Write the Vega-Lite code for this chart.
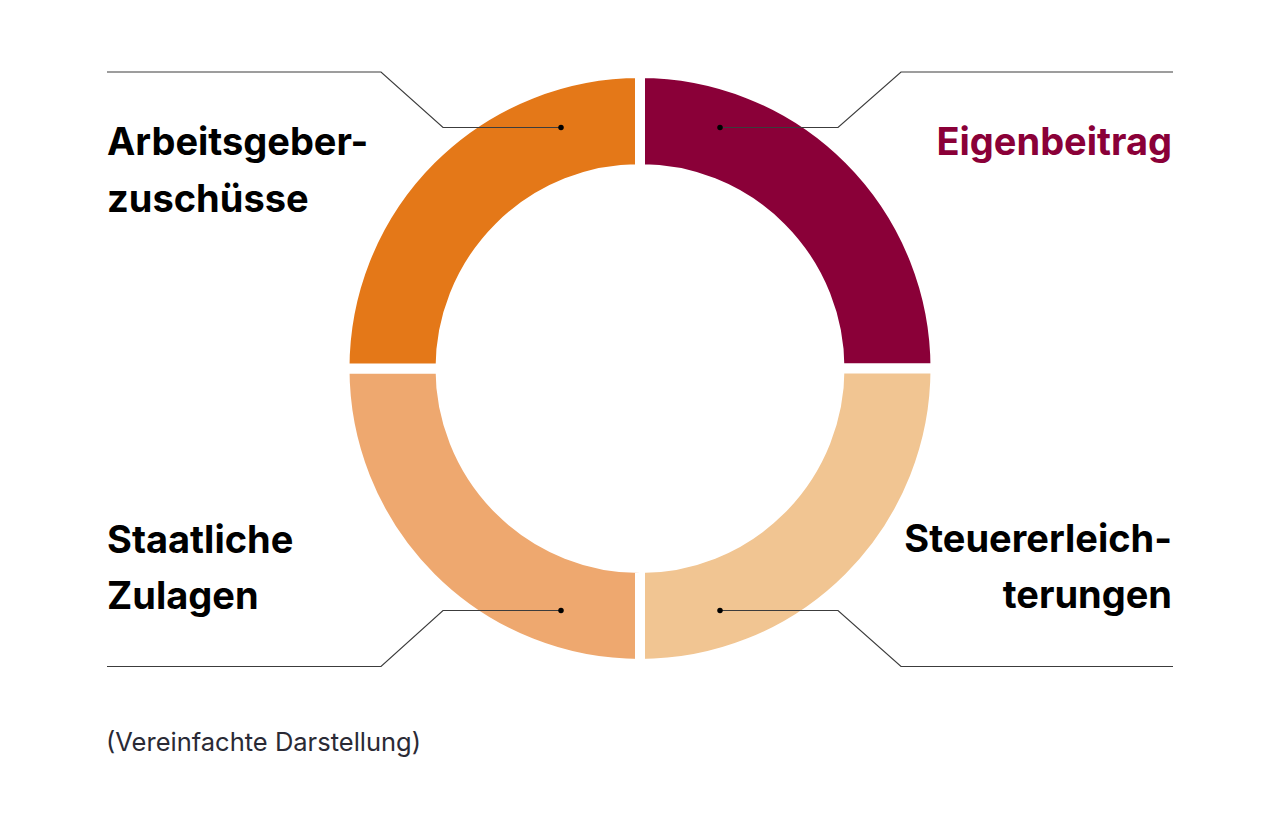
{
  "$schema": "https://vega.github.io/schema/vega-lite/v6.json",
  "width": 1280,
  "height": 737,
  "padding": 0,
  "background": "white",
  "view": {"stroke": null},
  "config": {"font": "Inter"},
  "datasets": {
    "segments": [
      {"category": "Eigenbeitrag", "value": 1, "order": 1},
      {"category": "Steuererleichterungen", "value": 1, "order": 2},
      {"category": "Staatliche Zulagen", "value": 1, "order": 3},
      {"category": "Arbeitsgeberzuschüsse", "value": 1, "order": 4}
    ],
    "leaders": [
      {"seg": "Arbeitsgeberzuschüsse", "step": 1, "x": 107, "y": 72},
      {"seg": "Arbeitsgeberzuschüsse", "step": 2, "x": 381, "y": 72},
      {"seg": "Arbeitsgeberzuschüsse", "step": 3, "x": 443, "y": 127.5},
      {"seg": "Arbeitsgeberzuschüsse", "step": 4, "x": 561, "y": 127.5},
      {"seg": "Eigenbeitrag", "step": 1, "x": 1173, "y": 72},
      {"seg": "Eigenbeitrag", "step": 2, "x": 901, "y": 72},
      {"seg": "Eigenbeitrag", "step": 3, "x": 838, "y": 127.5},
      {"seg": "Eigenbeitrag", "step": 4, "x": 720, "y": 127.5},
      {"seg": "Staatliche Zulagen", "step": 1, "x": 107, "y": 666.5},
      {"seg": "Staatliche Zulagen", "step": 2, "x": 381, "y": 666.5},
      {"seg": "Staatliche Zulagen", "step": 3, "x": 443, "y": 610.5},
      {"seg": "Staatliche Zulagen", "step": 4, "x": 561, "y": 610.5},
      {"seg": "Steuererleichterungen", "step": 1, "x": 1173, "y": 666.5},
      {"seg": "Steuererleichterungen", "step": 2, "x": 901, "y": 666.5},
      {"seg": "Steuererleichterungen", "step": 3, "x": 838, "y": 610.5},
      {"seg": "Steuererleichterungen", "step": 4, "x": 720, "y": 610.5}
    ],
    "dots": [
      {"seg": "Arbeitsgeberzuschüsse", "x": 561, "y": 127.5},
      {"seg": "Eigenbeitrag", "x": 720, "y": 127.5},
      {"seg": "Staatliche Zulagen", "x": 561, "y": 610.5},
      {"seg": "Steuererleichterungen", "x": 720, "y": 610.5}
    ],
    "leftLabels": [
      {"label": "Arbeitsgeber-", "x": 107, "y": 155},
      {"label": "zuschüsse", "x": 107, "y": 212},
      {"label": "Staatliche", "x": 107, "y": 553},
      {"label": "Zulagen", "x": 107, "y": 609}
    ],
    "rightLabels": [
      {"label": "Eigenbeitrag", "x": 1172, "y": 155},
      {"label": "Steuererleich-", "x": 1172, "y": 552},
      {"label": "terungen", "x": 1172, "y": 608}
    ],
    "notes": [
      {"label": "(Vereinfachte Darstellung)", "x": 106, "y": 751}
    ]
  },
  "layer": [
    {
      "data": {"name": "segments"},
      "mark": {"type": "arc", "outerRadius": 295.5, "innerRadius": 199.5, "stroke": "white", "strokeWidth": 10},
      "encoding": {
        "theta": {"field": "value", "type": "quantitative", "stack": true},
        "order": {"field": "order", "type": "quantitative"},
        "color": {
          "field": "category",
          "type": "nominal",
          "legend": null,
          "scale": {
            "domain": ["Eigenbeitrag", "Steuererleichterungen", "Staatliche Zulagen", "Arbeitsgeberzuschüsse"],
            "range": ["#8a0038", "#f1c592", "#eea86f", "#e47818"]
          }
        }
      }
    },
    {
      "data": {"name": "leaders"},
      "mark": {"type": "line", "stroke": "#3c3c3c", "strokeWidth": 1.2, "interpolate": "linear"},
      "encoding": {
        "x": {"field": "x", "type": "quantitative", "axis": null, "scale": {"domain": [0, 1280], "nice": false, "zero": false}},
        "y": {"field": "y", "type": "quantitative", "axis": null, "scale": {"domain": [0, 737], "nice": false, "zero": false, "reverse": true}},
        "detail": {"field": "seg", "type": "nominal"},
        "order": {"field": "step", "type": "quantitative"}
      }
    },
    {
      "data": {"name": "dots"},
      "mark": {"type": "circle", "color": "#000000", "opacity": 1, "size": 30},
      "encoding": {
        "x": {"field": "x", "type": "quantitative"},
        "y": {"field": "y", "type": "quantitative"}
      }
    },
    {
      "data": {"name": "leftLabels"},
      "mark": {"type": "text", "align": "left", "baseline": "alphabetic", "fontSize": 38, "fontWeight": "bold", "font": "Inter", "color": "#000000"},
      "encoding": {
        "x": {"field": "x", "type": "quantitative"},
        "y": {"field": "y", "type": "quantitative"},
        "text": {"field": "label", "type": "nominal"}
      }
    },
    {
      "data": {"name": "rightLabels"},
      "mark": {"type": "text", "align": "right", "baseline": "alphabetic", "fontSize": 38, "fontWeight": "bold", "font": "Inter"},
      "encoding": {
        "x": {"field": "x", "type": "quantitative"},
        "y": {"field": "y", "type": "quantitative"},
        "text": {"field": "label", "type": "nominal"},
        "color": {"condition": {"test": "datum.label === 'Eigenbeitrag'", "value": "#8a0038"}, "value": "#000000"}
      }
    },
    {
      "data": {"name": "notes"},
      "mark": {"type": "text", "align": "left", "baseline": "alphabetic", "fontSize": 25.5, "font": "Inter", "color": "#2a2a35"},
      "encoding": {
        "x": {"field": "x", "type": "quantitative"},
        "y": {"field": "y", "type": "quantitative"},
        "text": {"field": "label", "type": "nominal"}
      }
    }
  ]
}
